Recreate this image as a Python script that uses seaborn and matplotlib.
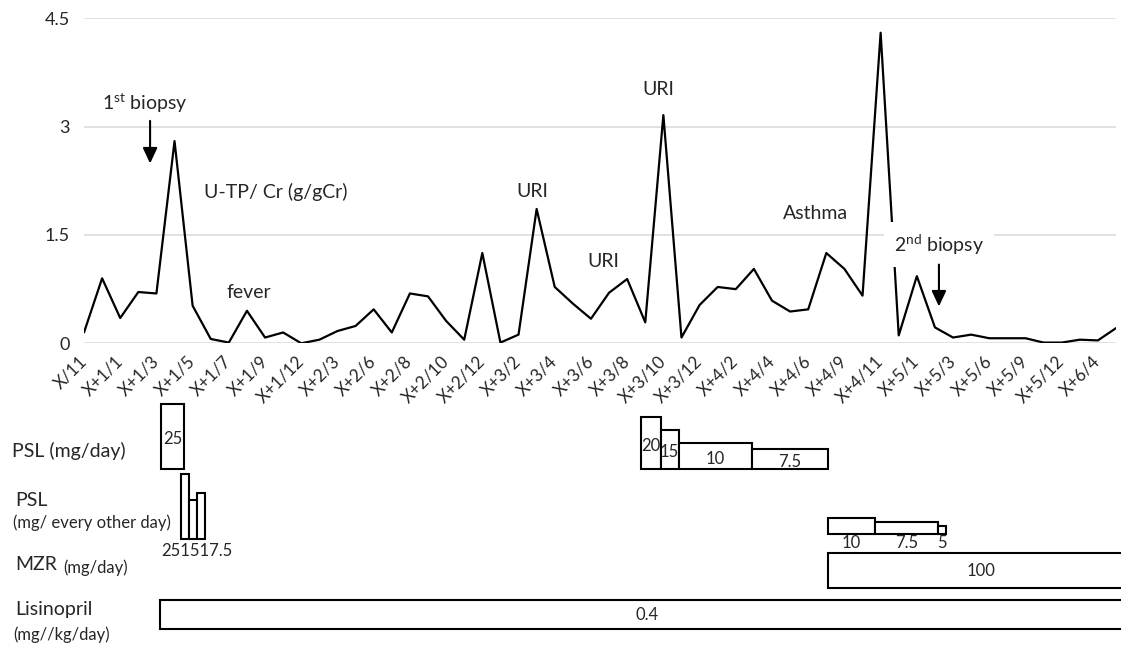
import matplotlib
matplotlib.use("Agg")
import matplotlib.pyplot as plt
import pandas as pd
import seaborn as sns

# U-TP/Cr (g/gCr), one value per visit
utp_cr = [0.15, 0.90, 0.35, 0.71, 0.69, 2.80, 0.52, 0.06, 0.01, 0.45,
          0.08, 0.15, 0.00, 0.05, 0.17, 0.24, 0.47, 0.15, 0.69, 0.65,
          0.31, 0.05, 1.25, 0.01, 0.12, 1.86, 0.78, 0.55, 0.34, 0.70,
          0.89, 0.29, 3.16, 0.08, 0.53, 0.78, 0.75, 1.03, 0.59, 0.44,
          0.47, 1.25, 1.03, 0.66, 4.30, 0.11, 0.93, 0.22, 0.08, 0.12,
          0.07, 0.07, 0.07, 0.01, 0.01, 0.05, 0.04, 0.21]

# every other visit is labelled
tick_labels = ["X/11", "X+1/1", "X+1/3", "X+1/5", "X+1/7", "X+1/9", "X+1/12",
               "X+2/3", "X+2/6", "X+2/8", "X+2/10", "X+2/12", "X+3/2", "X+3/4",
               "X+3/6", "X+3/8", "X+3/10", "X+3/12", "X+4/2", "X+4/4", "X+4/6",
               "X+4/9", "X+4/11", "X+5/1", "X+5/3", "X+5/6", "X+5/9", "X+5/12",
               "X+6/4"]

# events written on the chart: (text, visit index, value)
event_text = ["U-TP/ Cr (g/gCr)", "fever", "URI", "URI", "URI", "Asthma"]
event_x = [10.6, 9.13, 24.76, 28.71, 31.74, 40.38]
event_y = [2.10, 0.71, 2.10, 1.13, 3.51, 1.80]

# biopsies (visit index where the arrow points)
biopsy_text = ["1$^{\\mathrm{st}}$ biopsy", "2$^{\\mathrm{nd}}$ biopsy"]
biopsy_x = [3.65, 47.22]

# treatment periods in visit-index units
psl_day_start = [4.27, 30.74, 31.85, 32.85, 36.91]
psl_day_end = [5.54, 31.85, 32.85, 36.91, 41.08]
psl_day_dose = [25, 20, 15, 10, 7.5]
psl_day_text = ["25", "20", "15", "10", "7.5"]

psl_alt1_start = [5.36, 5.80, 6.22]
psl_alt1_end = [5.80, 6.22, 6.68]
psl_alt1_dose = [25, 15, 17.5]
psl_alt1_text = ["25", "15", "17.5"]

psl_alt2_start = [41.08, 43.71, 47.19]
psl_alt2_end = [43.71, 47.19, 47.61]
psl_alt2_dose = [10, 7.5, 5]
psl_alt2_text = ["10", "7.5", "5"]

mzr_start, mzr_end, mzr_text = 41.1, 58, "100"
lis_start, lis_end, lis_text = 4.21, 58, "0.4"

sns.set_style("white")
plt.rcParams['font.family'] = ['Lato', 'DejaVu Sans']
plt.rcParams['mathtext.fontset'] = 'custom'
plt.rcParams['mathtext.rm'] = 'Lato'

W, H = 1121, 646
fig = plt.figure(figsize=(W / 100, H / 100), dpi=100)

# ---- top: U-TP/Cr line ----
ax = fig.add_axes([84 / W, 1 - 343.3 / H, (1116 - 84) / W, (343.3 - 18.3) / H])
df = pd.DataFrame({"visit": range(len(utp_cr)), "utp": utp_cr})
sns.lineplot(data=df, x="visit", y="utp", color="black", lw=1.6, ax=ax)
ax.set_xlim(0, len(utp_cr) - 1)
ax.set_ylim(0, 4.5)
ax.set_yticks([0, 1.5, 3, 4.5])
ax.set_yticklabels(["0", "1.5", "3", "4.5"], fontsize=13)
ax.set_xticks(range(0, len(utp_cr), 2))
ax.set_xticklabels(tick_labels, rotation=45, ha="right", va="center",
                   rotation_mode="anchor", fontsize=12.3)
ax.tick_params(axis="x", length=0, pad=11)
ax.tick_params(axis="y", length=0, pad=10)
ax.yaxis.grid(True, color="#d9d9d9", lw=1.1)
ax.set_axisbelow(True)
ax.set_xlabel("")
ax.set_ylabel("")
sns.despine(ax=ax, left=True, bottom=True)

for t, x, y in zip(event_text, event_x, event_y):
    ax.text(x, y, t, ha="center", va="center", fontsize=14)

arrow = dict(arrowstyle="-|>,head_length=0.47,head_width=0.22", color="black",
             lw=1.5, mutation_scale=20, shrinkA=0, shrinkB=0)
ax.text(biopsy_x[0] - 0.3, 3.32, biopsy_text[0], ha="center", va="center", fontsize=14)
ax.annotate("", xy=(biopsy_x[0], 2.49), xytext=(biopsy_x[0], 3.08), arrowprops=arrow)
ax.text(biopsy_x[1], 1.37, biopsy_text[1], ha="center", va="center", fontsize=14,
        bbox=dict(boxstyle="square,pad=0.5", facecolor="white", edgecolor="none"))
ax.annotate("", xy=(biopsy_x[1], 0.51), xytext=(biopsy_x[1], 1.09), arrowprops=arrow)

# ---- bottom: treatment bars (y in pixels from top) ----
step = (1116 - 84) / (len(utp_cr) - 1)
ax2 = fig.add_axes([0, 0, 1, (H - 380) / H])
ax2.set_xlim(-84 / step, (W - 84) / step)
ax2.set_ylim(H, 380)
ax2.axis("off")

box = dict(align="edge", facecolor="white", edgecolor="black", linewidth=1.5)


def dose_bars(starts, ends, doses, base, scale):
    widths = [e - s for s, e in zip(starts, ends)]
    heights = [-d * scale for d in doses]
    ax2.bar(starts, heights, width=widths, bottom=base, **box)


# PSL daily
dose_bars(psl_day_start, psl_day_end, psl_day_dose, 468.7, 2.6)
for s, e, d, t in zip(psl_day_start, psl_day_end, psl_day_dose, psl_day_text):
    ax2.text((s + e) / 2, 468.7 - d * 2.6 / 2 + 3, t, ha="center", va="center", fontsize=12)

# PSL every other day
dose_bars(psl_alt1_start, psl_alt1_end, psl_alt1_dose, 538.7, 2.6)
ax2.text((psl_alt1_start[0] + psl_alt1_end[-1]) / 2 + 0.2, 551, "".join(psl_alt1_text),
         ha="center", va="center", fontsize=12)
dose_bars(psl_alt2_start, psl_alt2_end, psl_alt2_dose, 534, 1.6)
for s, e, t in zip(psl_alt2_start, psl_alt2_end, psl_alt2_text):
    ax2.text((s + e) / 2, 543, t, ha="center", va="center", fontsize=12)

# MZR and lisinopril
ax2.bar(mzr_start, 552.7 - 588.3, width=mzr_end - mzr_start, bottom=588.3, **box)
ax2.text((mzr_start + mzr_end) / 2, 570.5, mzr_text, ha="center", va="center", fontsize=12)
ax2.bar(lis_start, 600 - 629.3, width=lis_end - lis_start, bottom=629.3, **box)
ax2.text((lis_start + lis_end) / 2, 615, lis_text, ha="center", va="center", fontsize=12)

# row labels
rows = [("PSL (mg/day)", 12, 451, 14), ("PSL", 15, 500, 14),
        ("(mg/ every other day)", 13, 523, 12), ("MZR", 15, 565, 14),
        ("(mg/day)", 63, 568, 12), ("Lisinopril", 15, 610, 14),
        ("(mg//kg/day)", 13, 635, 12)]
for t, px, py, fs in rows:
    fig.text(px / W, 1 - py / H, t, ha="left", va="center", fontsize=fs)

fig.savefig("out.png", dpi=100)
